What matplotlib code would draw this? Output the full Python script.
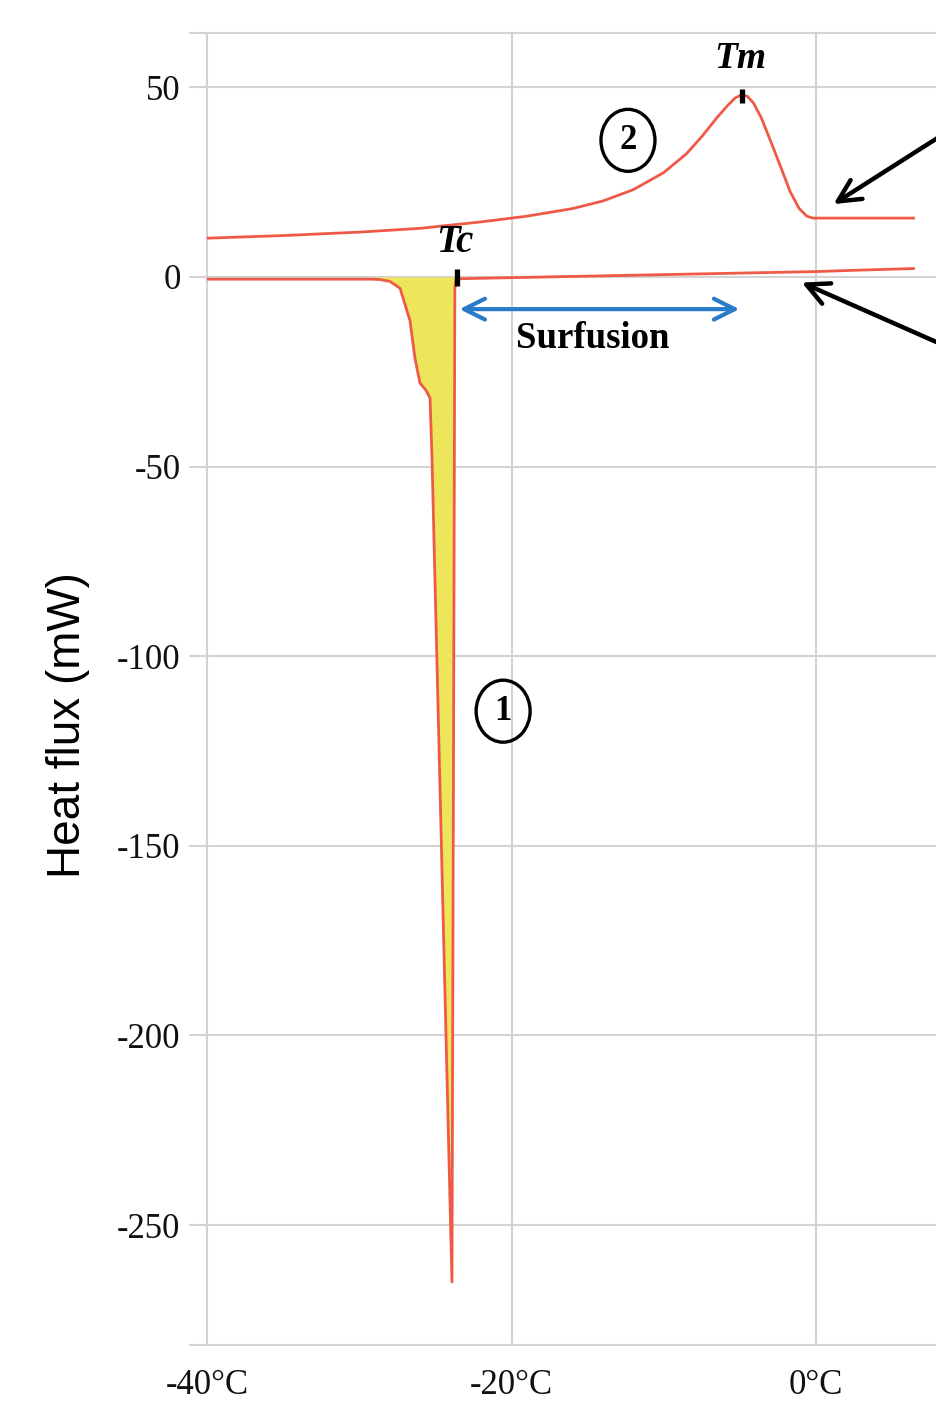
import numpy as np
import matplotlib.pyplot as plt
from matplotlib.patches import Ellipse

# Courbe 1 : refroidissement (cristallisation)
t_cool = np.array([-40, -35, -30, -29.2, -28.64, -27.98, -27.32, -26.67, -26.34,
                   -26.01, -25.6, -25.35, -25.22, -23.91, -23.72, -23.64,
                   -20, -15, -10, -5, 0, 3, 6.4])
q_cool = np.array([-0.6, -0.6, -0.6, -0.6, -0.7, -1.2, -3.0, -11.5, -21.5,
                   -28.0, -30.0, -32.0, -48.0, -265.0, -3.0, -0.5,
                   -0.2, 0.2, 0.6, 1.0, 1.4, 1.8, 2.2])

# Courbe 2 : chauffage (fusion)
t_heat = np.array([-40, -35, -30, -26, -22, -19, -16, -14, -12, -10, -8.5, -7.5,
                   -6.5, -5.8, -5.3, -4.9, -4.5, -4.1, -3.6, -3.0, -2.3, -1.7, -1.1, -0.6,
                   -0.2, 2, 4, 6.4])
q_heat = np.array([10.2, 10.9, 11.8, 12.8, 14.5, 16.0, 18.0, 20.0, 23.0, 27.5, 32.5, 37.0,
                   42.0, 45.2, 47.2, 48.0, 47.6, 45.8, 42.0, 36.0, 28.8, 22.5, 18.0, 16.0,
                   15.5, 15.5, 15.5, 15.5])

tc = -23.6
tm = -4.85
yticks = [50, 0, -50, -100, -150, -200, -250]
xticks = [-40, -20, 0]
xlabels = ['-40°C', '-20°C', '0°C']

red = '#ef5a48'
grid_c = '#d3d3d3'
serif = 'Liberation Serif'

fig = plt.figure(figsize=(9.36, 14.03), dpi=100)
ax = fig.add_axes([207 / 936, 58 / 1403, 761.25 / 936, 1312 / 1403])
ax.set_xlim(-40, 10)
ax.set_ylim(-281.6, 64.3)

# grille et axes gris clair
ax.grid(True, color=grid_c, lw=1.5)
ax.set_axisbelow(True)
ax.spines['right'].set_visible(False)
for s in ['left', 'bottom', 'top']:
    ax.spines[s].set_color(grid_c)
    ax.spines[s].set_linewidth(1.5)
ax.set_yticks(yticks)
ax.set_yticklabels([str(v) for v in yticks], fontfamily=serif, fontsize=25, color='#111111')
ax.set_yticks([64.3, -281.6], minor=True)
ax.tick_params(axis='y', which='both', length=13, width=1.5, color=grid_c, pad=6)
ax.set_xticks(xticks)
ax.set_xticklabels(xlabels, fontfamily=serif, fontsize=25, color='#111111')
ax.tick_params(axis='x', length=0, pad=17)

# zone jaune (cristallisation)
mask = (t_cool >= -29.2) & (t_cool <= -23.64)
ax.fill_between(t_cool[mask], q_cool[mask], 0, color='#ede55a', lw=0, zorder=2)

ax.plot(t_cool, q_cool, color=red, lw=2.0, zorder=3)
ax.plot(t_heat, q_heat, color=red, lw=2.0, zorder=3)

# repères Tc et Tm
ax.plot([tc, tc], [-2.4, 2.2], color='black', lw=3.8, zorder=4, solid_capstyle='butt')
ax.plot([tm, tm], [45.8, 49.5], color='black', lw=3.8, zorder=4, solid_capstyle='butt')
ax.text(tc - 0.1, 9, 'Tc', fontfamily=serif, fontweight='bold', fontstyle='italic',
        fontsize=28, ha='center', va='center')
ax.text(tm - 0.1, 57.7, 'Tm', fontfamily=serif, fontweight='bold', fontstyle='italic',
        fontsize=27, ha='center', va='center')

# surfusion
ax.annotate('', xy=(tc, -8.5), xytext=(tm, -8.5),
            arrowprops=dict(arrowstyle='<->,head_length=1.5,head_width=0.75',
                            color='#2a7ac8', lw=3.0))
ax.text(-14.7, -16.3, 'Surfusion', fontfamily=serif, fontweight='bold',
        fontsize=26.5, ha='center', va='center')

# numéros entourés
for (cx, cy, lab) in [(-12.35, 36.0, '2'), (-20.55, -114.5, '1')]:
    ax.add_patch(Ellipse((cx, cy), 54 / 15.225, 62 / 3.793, fill=False,
                         ec='black', lw=2.4, zorder=5))
    ax.text(cx, cy, lab, fontfamily=serif, fontweight='bold', fontsize=25,
            ha='center', va='center', zorder=5)

# flèches noires vers les courbes
ax.annotate('', xy=(1.0, 18.8), xytext=(9.5, 40.5), annotation_clip=False,
            arrowprops=dict(arrowstyle='->,head_length=1.6,head_width=0.8',
                            color='black', lw=3.2))
ax.annotate('', xy=(-1.1, -1.2), xytext=(9.5, -20.0), annotation_clip=False,
            arrowprops=dict(arrowstyle='->,head_length=1.6,head_width=0.8',
                            color='black', lw=3.2))

fig.text(68 / 936, 1 - 725 / 1403, 'Heat flux (mW)', rotation=90,
         fontfamily='Liberation Sans', fontsize=33, ha='center', va='center')

fig.savefig('out.png', dpi=100)
